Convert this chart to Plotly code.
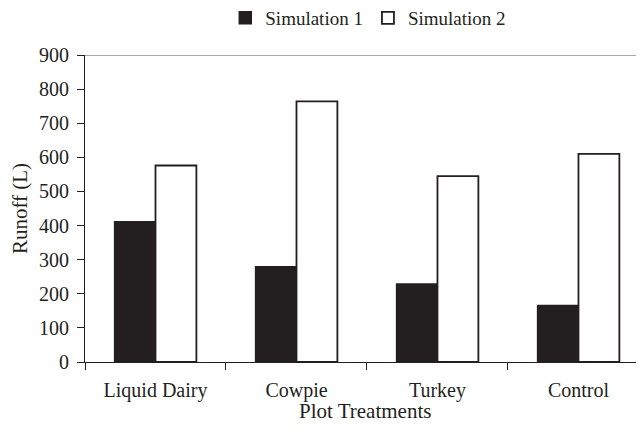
import plotly.graph_objects as go

categories = ["Liquid Dairy", "Cowpie", "Turkey", "Control"]
sim1 = [411, 279, 229, 166]
sim2 = [576, 764, 545, 610]
y_ticks = [0, 100, 200, 300, 400, 500, 600, 700, 800, 900]

ink = "#231f20"
font = dict(family="Liberation Serif, Times New Roman, serif", size=20, color=ink)

fig = go.Figure()
fig.add_trace(go.Bar(name="Simulation 1", x=categories, y=sim1,
                     marker=dict(color=ink, line=dict(color=ink, width=1.5))))
fig.add_trace(go.Bar(name="Simulation 2", x=categories, y=sim2,
                     marker=dict(color="white", line=dict(color=ink, width=1.8))))

fig.update_layout(
    width=628, height=417,
    margin=dict(l=77, r=0, t=47, b=63, autoexpand=False),
    paper_bgcolor="white", plot_bgcolor="white",
    font=font,
    barmode="group", bargap=0.42, bargroupgap=0,
    showlegend=True,
    legend=dict(orientation="h", xref="container", x=0.346, xanchor="left",
                yref="container", y=0.976, yanchor="middle",
                font=dict(size=19), itemwidth=30, traceorder="normal", tracegroupgap=0),
    xaxis=dict(range=[-0.5, 3.408], showline=True, linecolor=ink, linewidth=1.2,
               ticks="outside", tickson="boundaries", ticklen=7, tickcolor=ink,
               tickwidth=1.2, ticklabelstandoff=10, showgrid=False, automargin=False),
    yaxis=dict(range=[0, 900], tickvals=y_ticks, showline=True, linecolor=ink,
               linewidth=1.2, ticks="outside", ticklen=7, tickcolor=ink, tickwidth=1.2,
               showgrid=False, zeroline=False, ticklabelstandoff=4, automargin=False,
               title=dict(text="Runoff (L)", standoff=5, font=dict(size=21))),
    annotations=[dict(text="Plot Treatments", xref="paper", yref="paper",
                      x=0.508, y=-0.161, xanchor="center", yanchor="middle",
                      showarrow=False, font=dict(size=21))],
    shapes=[dict(type="line", xref="paper", yref="y", x0=0, x1=1, y0=900, y1=900,
                 line=dict(color="#8a8a8a", width=1.5))],
)

fig.write_html("out.html")
